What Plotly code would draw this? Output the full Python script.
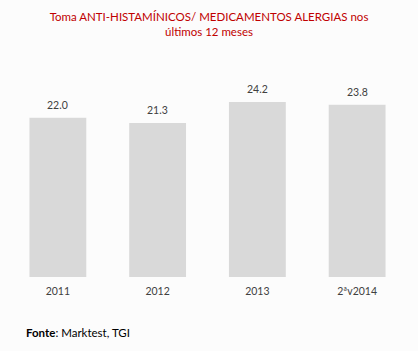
import plotly.graph_objects as go

categories = ["2011", "2012", "2013", "2ªv2014"]
values = [22.0, 21.3, 24.2, 23.8]
value_labels = ["22.0", "21.3", "24.2", "23.8"]

positions = list(range(len(categories)))

fig = go.Figure()
fig.add_trace(go.Bar(
    x=positions, y=values, width=0.57,
    marker=dict(color="#d9d9d9", line=dict(width=0)),
    hoverinfo="skip",
))

annotations = [
    dict(x=p, y=v, text=t, xref="x", yref="y", showarrow=False,
         yshift=13, xanchor="center", yanchor="middle",
         font=dict(family="Lato", size=10.5, color="#404040"))
    for p, v, t in zip(positions, values, value_labels)
]
annotations.append(dict(text="<b>Fonte</b>: Marktest, TGI", xref="paper", yref="paper",
                        x=0.041, y=-0.255, xanchor="left", yanchor="middle", showarrow=False,
                        font=dict(family="Lato", size=11.5, color="#000000")))

fig.update_layout(
    width=418, height=351,
    margin=dict(l=7.5, r=10.5, t=60, b=74),
    paper_bgcolor="#fcfcfc", plot_bgcolor="#fcfcfc",
    showlegend=False,
    xaxis=dict(range=[-0.5, len(categories) - 0.5], tickvals=positions, ticktext=categories,
               showgrid=False, showline=False, ticks="", zeroline=False,
               ticklabelstandoff=6,
               tickfont=dict(family="Lato", size=10.5, color="#404040")),
    yaxis=dict(range=[0, 30], visible=False, showgrid=False, zeroline=False),
    title=dict(text="Toma ANTI-HISTAMÍNICOS/ MEDICAMENTOS ALERGIAS nos<br><span style='line-height:1.3'>últimos 12 meses</span>",
               x=0.5, xanchor="center", y=0.94, yanchor="top",
               font=dict(family="Lato", size=11.5, color="#c00000")),
    annotations=annotations,
)

fig.write_html("out.html")
